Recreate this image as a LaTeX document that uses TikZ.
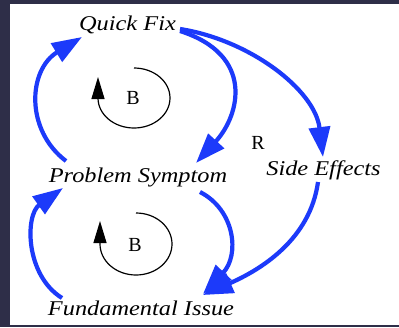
\documentclass[tikz,border=0pt]{standalone}
\usepackage{fontspec}
\setmainfont{Liberation Serif}
\newfontfamily\lblfont[FakeStretch=1.16]{Liberation Serif}
\usetikzlibrary{arrows.meta}
\definecolor{loopblue}{RGB}{28,58,250}
\definecolor{frame}{RGB}{46,46,72}
\begin{document}
\begin{tikzpicture}[x=1pt,y=-1pt,
  lbl/.style={inner sep=0pt, anchor=base, font=\lblfont\itshape\fontsize{21}{21}\selectfont},
  looptag/.style={inner sep=0pt, font=\fontsize{20}{20}\selectfont},
  link/.style={draw=loopblue, line width=4.2pt, -{Triangle[length=30pt,width=21pt]}},
  loopline/.style={draw=black, line width=1.2pt, -{Triangle[length=22pt,width=13pt]}}]
\useasboundingbox (0,0) rectangle (399,327);
\fill[frame] (0,0) rectangle (399,327);
\fill[white] (10,4) rectangle (399,325);

\node[lbl] (qf) at (127.5,30) {Quick Fix};
\node[lbl] (ps) at (138,182) {Problem Symptom};
\node[lbl] (se) at (323.5,175) {Side Effects};
\node[lbl] (fi) at (141,315) {Fundamental Issue};
\node[looptag] (b1) at (133,98) {B};
\node[looptag] (b2) at (135,245) {B};
\node[looptag] (r) at (258,143) {R};

% blue links
\draw[link] ([shift={(-72,-21)}]ps.base) .. controls (25,130) and (28,70) .. ([shift={(-45.5,7)}]qf.base);
\draw[link] ([shift={(52.5,1)}]qf.base) .. controls (255,55) and (240,115) .. ([shift={(58,-19)}]ps.base);
\draw[link] ([shift={(52.5,-1)}]qf.base) .. controls (250,40) and (315,90) .. ([shift={(-0.5,-18)}]se.base);
\draw[link] ([shift={(-79,-17)}]fi.base) .. controls (25,275) and (25,215) .. ([shift={(-75,6)}]ps.base);
\draw[link] ([shift={(62,10)}]ps.base) .. controls (235,210) and (240,255) .. ([shift={(62,-21)}]fi.base);
\draw[link] ([shift={(-5.5,7)}]se.base) .. controls (310,240) and (260,270) .. ([shift={(62,-20)}]fi.base);

% black loop markers
\draw[loopline] ([shift={(1,-30)}]b1.center) arc[start angle=-90, end angle=180, x radius=36, y radius=30] -- ++(0,-21);
\draw[loopline] ([shift={(1,-32)}]b2.center) arc[start angle=-90, end angle=180, x radius=36, y radius=31] -- ++(0,-23);
\end{tikzpicture}
\end{document}
